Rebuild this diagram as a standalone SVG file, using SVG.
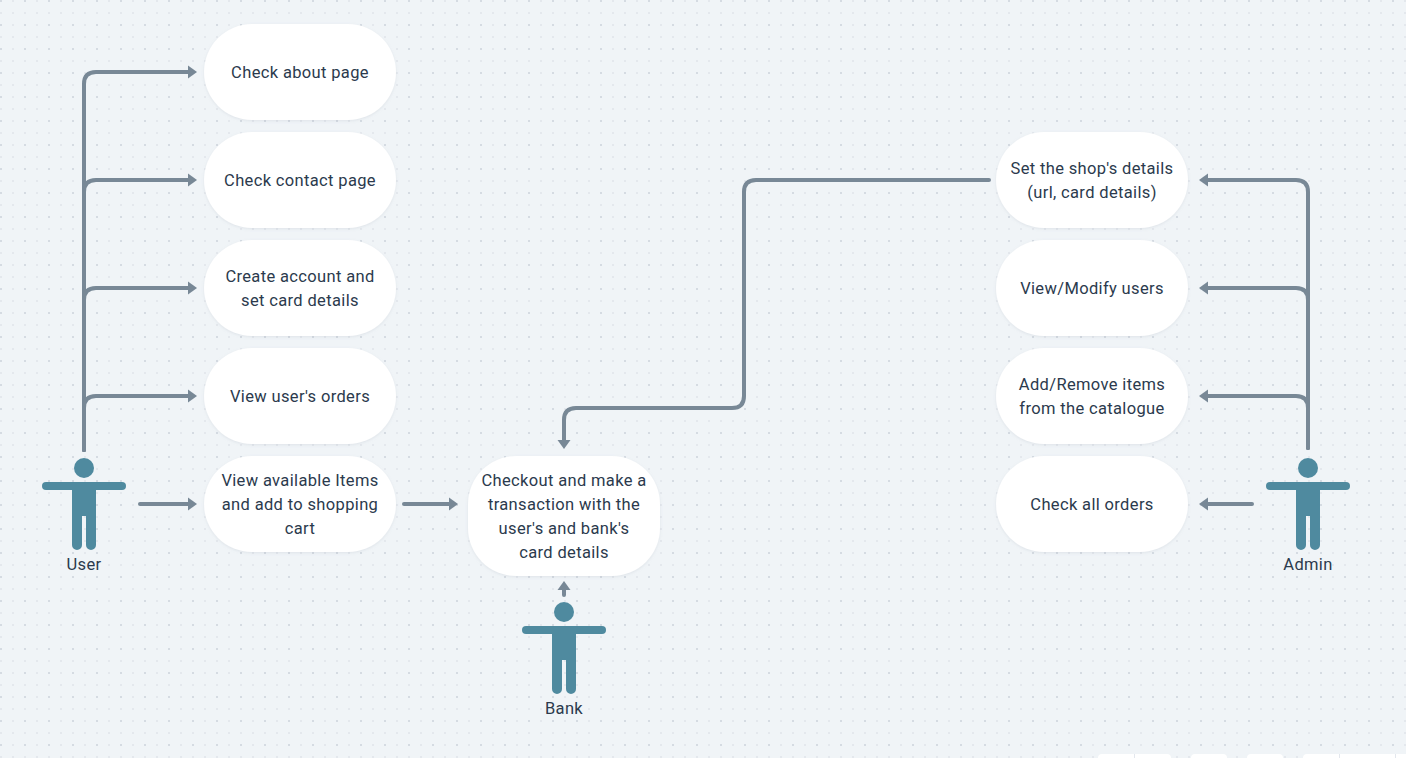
<svg xmlns="http://www.w3.org/2000/svg" width="1406" height="758" viewBox="0 0 1406 758">
<style>
text{font-family:"Roboto","Noto Sans","Liberation Sans",sans-serif;font-size:16.500px;fill:#2b3a4d;text-anchor:middle;dominant-baseline:central;letter-spacing:.35px}
.n{fill:#fff;filter:url(#s)}
.c{fill:none;stroke:#788896;stroke-width:4;stroke-linecap:round;stroke-linejoin:round}
.p{fill:#4f8a9f}
.tb{fill:#fff}
</style>
<defs>
<pattern id="g" width="24" height="24" patternUnits="userSpaceOnUse">
<rect x="0" y="0" width="2" height="2" fill="#d5dbe2"/>
<rect x="12" y="0" width="2" height="2" fill="#e4e8ed"/>
<rect x="0" y="12" width="2" height="2" fill="#e4e8ed"/>
<rect x="12" y="12" width="2" height="2" fill="#e4e8ed"/>
</pattern>
<filter id="s" x="-10%" y="-10%" width="120%" height="125%"><feDropShadow dx="0" dy="1" stdDeviation="1.5" flood-color="#8a97a8" flood-opacity=".18"/></filter>
<marker id="a" markerUnits="userSpaceOnUse" markerWidth="12" markerHeight="14" refX="0" refY="7" orient="auto"><path d="M0 0.500L9 7L0 13.500Z" fill="#788896"/></marker>
<g id="person">
<circle cx="0" cy="0" r="10" class="p"/>
<rect x="-42" y="14" width="84" height="8" rx="4" class="p"/>
<path class="p" d="M-12 14H12V77A5 5 0 0 1 2 77V48H-2V77A5 5 0 0 1-12 77Z"/>
</g>
</defs>
<rect width="1406" height="758" fill="#f0f4f7"/>
<rect width="1406" height="758" fill="url(#g)"/>
<g id="connectors" class="c">
<path d="M84 450V84Q84 72 96 72H188" marker-end="url(#a)"/>
<path d="M84 450V192Q84 180 96 180H188" marker-end="url(#a)"/>
<path d="M84 450V300Q84 288 96 288H188" marker-end="url(#a)"/>
<path d="M84 450V408Q84 396 96 396H188" marker-end="url(#a)"/>
<path d="M140 504H188" marker-end="url(#a)"/>
<path d="M404 504H449" marker-end="url(#a)"/>
<path d="M564 595V590" marker-end="url(#a)"/>
<path d="M989 180H756Q744 180 744 192V396Q744 408 732 408H576Q564 408 564 420V440" marker-end="url(#a)"/>
<path d="M1308 448V192Q1308 180 1296 180H1208" marker-end="url(#a)"/>
<path d="M1308 448V300Q1308 288 1296 288H1208" marker-end="url(#a)"/>
<path d="M1308 448V408Q1308 396 1296 396H1208" marker-end="url(#a)"/>
<path d="M1252 504H1208" marker-end="url(#a)"/>
</g>
<g id="n1"><rect class="n" x="204" y="24" width="192" height="96" rx="48"/><text x="300" y="72">Check about page</text></g>
<g id="n2"><rect class="n" x="204" y="132" width="192" height="96" rx="48"/><text x="300" y="180">Check contact page</text></g>
<g id="n3"><rect class="n" x="204" y="240" width="192" height="96" rx="48"/><text x="300" y="276">Create account and</text><text x="300" y="300">set card details</text></g>
<g id="n4"><rect class="n" x="204" y="348" width="192" height="96" rx="48"/><text x="300" y="396">View user's orders</text></g>
<g id="n5"><rect class="n" x="204" y="456" width="192" height="96" rx="48"/><text x="300" y="480">View available Items</text><text x="300" y="504">and add to shopping</text><text x="300" y="528">cart</text></g>
<g id="n6"><rect class="n" x="468" y="456" width="192" height="120" rx="48"/><text x="564" y="480">Checkout and make a</text><text x="564" y="504">transaction with the</text><text x="564" y="528">user's and bank's</text><text x="564" y="552">card details</text></g>
<g id="n7"><rect class="n" x="996" y="132" width="192" height="96" rx="48"/><text x="1092" y="168">Set the shop's details</text><text x="1092" y="192">(url, card details)</text></g>
<g id="n8"><rect class="n" x="996" y="240" width="192" height="96" rx="48"/><text x="1092" y="288">View/Modify users</text></g>
<g id="n9"><rect class="n" x="996" y="348" width="192" height="96" rx="48"/><text x="1092" y="384">Add/Remove items</text><text x="1092" y="408">from the catalogue</text></g>
<g id="n10"><rect class="n" x="996" y="456" width="192" height="96" rx="48"/><text x="1092" y="504">Check all orders</text></g>
<g id="user"><use href="#person" x="84" y="468"/><text x="84" y="564">User</text></g>
<g id="bank"><use href="#person" x="564" y="612"/><text x="564" y="708">Bank</text></g>
<g id="admin"><use href="#person" x="1308" y="468"/><text x="1308" y="564">Admin</text></g>
<g id="toolbar">
<rect class="tb" x="1098" y="754" width="73" height="12" rx="4"/>
<rect class="tb" x="1191" y="754" width="36" height="12" rx="4"/>
<rect class="tb" x="1247" y="754" width="36" height="12" rx="4"/>
<rect class="tb" x="1303" y="754" width="110" height="12" rx="4"/>
<path d="M1134.500 754V758M1339.500 754V758M1395.500 754V758" stroke="#e3e7ed" fill="none"/>
</g>
</svg>
